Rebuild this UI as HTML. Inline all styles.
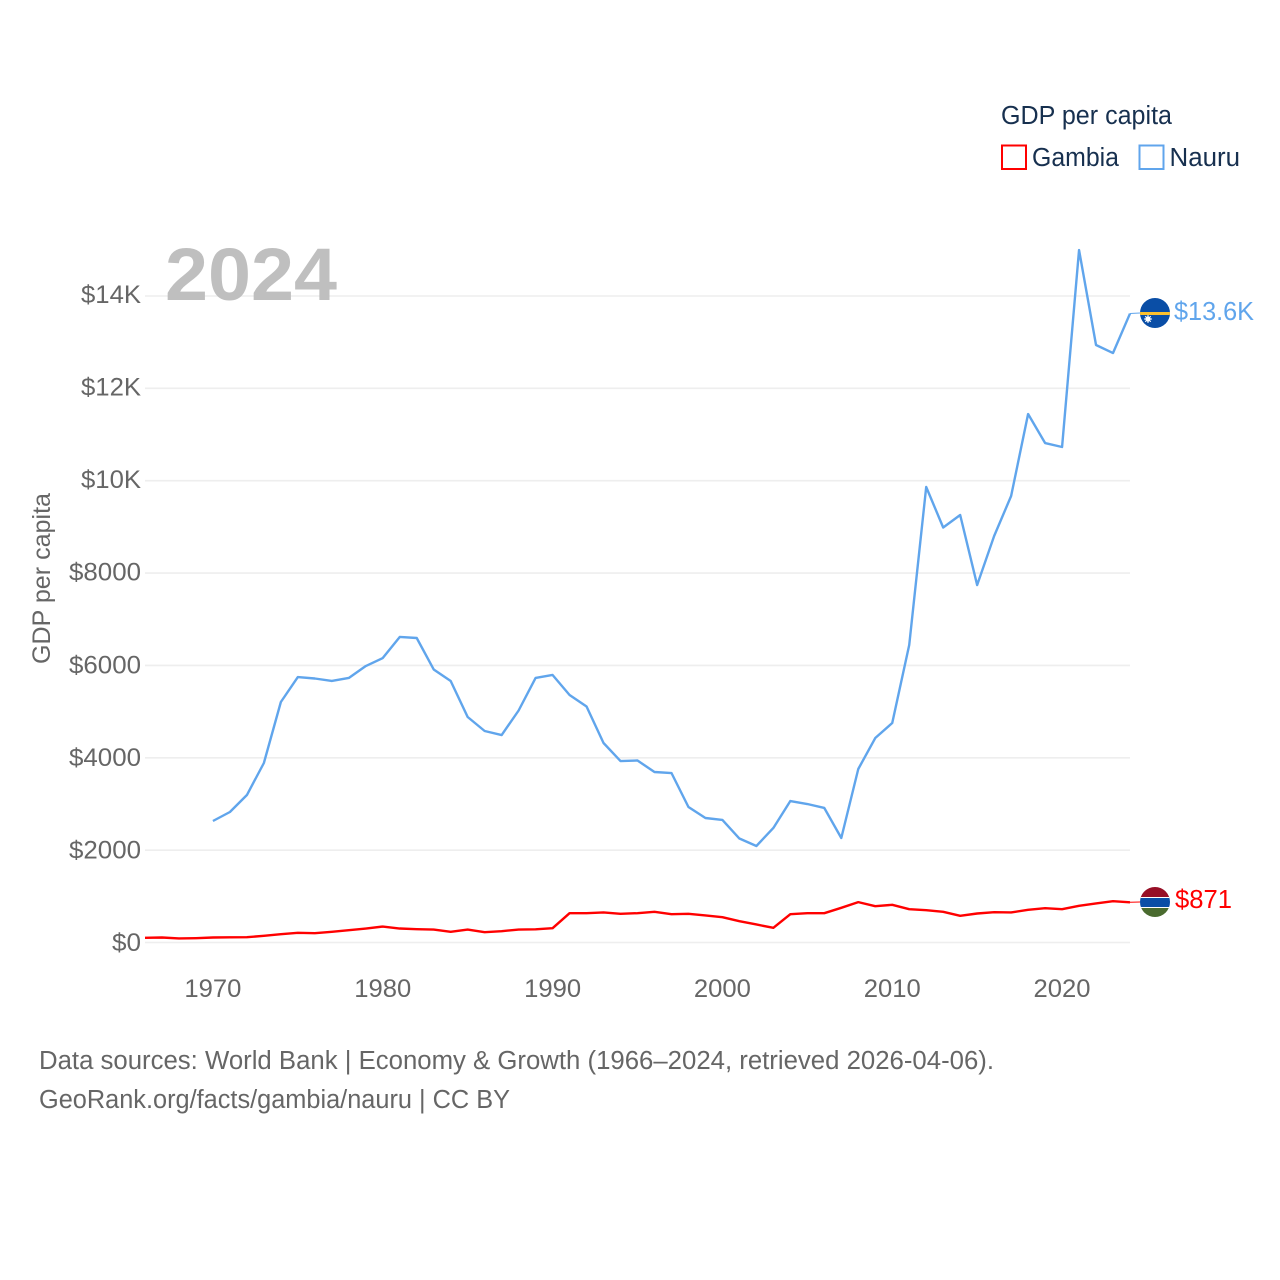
<!DOCTYPE html>
<html lang="en">
<head>
<meta charset="utf-8">
<title>GDP per capita: Gambia and Nauru</title>
<style>
html,body{margin:0;padding:0;background:#fff;width:1280px;height:1280px;overflow:hidden}
svg{display:block}
text{font-family:"Liberation Sans",sans-serif}
</style>
</head>
<body>
<svg id="chart" xmlns="http://www.w3.org/2000/svg" width="1280" height="1280" viewBox="0 0 1280 1280">
  <defs>
    <clipPath id="flag-clip-n"><circle cx="1155" cy="313" r="15"/></clipPath>
    <clipPath id="flag-clip-g"><circle cx="1155" cy="902" r="15"/></clipPath>
  </defs>
  <rect x="0" y="0" width="1280" height="1280" fill="#fff"/>
  <g id="grid"></g>
  <g id="yticks"></g>
  <g id="xticks"></g>
  <text x="165" y="300" font-size="74" font-weight="700" fill="#bfbfbf" textLength="172" lengthAdjust="spacingAndGlyphs">2024</text>
  <text transform="translate(50,664) rotate(-90)" font-size="24.6" fill="#666" textLength="171" lengthAdjust="spacingAndGlyphs">GDP per capita</text>
  <g id="series"></g>

  <g clip-path="url(#flag-clip-n)">
    <rect x="1140" y="298" width="30" height="30" fill="#0a4ea6"/>
    <rect x="1140" y="312" width="30" height="3" fill="#fcc12e"/>
    <circle cx="1148" cy="319" r="2.6" fill="#fff"/>
    <path d="M1148 315V323M1144 319H1152M1145.2 316.2L1150.8 321.8M1150.8 316.2L1145.2 321.8" stroke="#fff" stroke-width="1"/>
  </g>
  <g clip-path="url(#flag-clip-g)">
    <rect x="1140" y="887" width="30" height="11" fill="#970f26"/>
    <rect x="1140" y="897" width="30" height="11" fill="#fff"/>
    <rect x="1140" y="898" width="30" height="9" fill="#0a4ea6"/>
    <rect x="1140" y="908" width="30" height="10" fill="#4a6b2f"/>
  </g>
  <text x="1174" y="320" font-size="25.5" fill="#60a5ec" textLength="80" lengthAdjust="spacingAndGlyphs">$13.6K</text>
  <text x="1175" y="908" font-size="25.5" fill="#f00" textLength="57" lengthAdjust="spacingAndGlyphs">$871</text>

  <g>
    <text x="1001" y="124" font-size="25.5" fill="#17304f" textLength="171" lengthAdjust="spacingAndGlyphs">GDP per capita</text>
    <rect x="1002" y="145.500" width="24" height="23.500" fill="none" stroke="#f00" stroke-width="2"/>
    <text x="1032" y="166" font-size="25.5" fill="#17304f" textLength="87" lengthAdjust="spacingAndGlyphs">Gambia</text>
    <rect x="1139.500" y="145.500" width="24" height="23.500" fill="none" stroke="#60a5ec" stroke-width="2"/>
    <text x="1169.500" y="166" font-size="25.5" fill="#17304f" textLength="70.500" lengthAdjust="spacingAndGlyphs">Nauru</text>
  </g>

  <text x="39" y="1069" font-size="25.5" fill="#666" textLength="955" lengthAdjust="spacingAndGlyphs">Data sources: World Bank | Economy &amp; Growth (1966–2024, retrieved 2026-04-06).</text>
  <text x="39" y="1108" font-size="25.5" fill="#666" textLength="471" lengthAdjust="spacingAndGlyphs">GeoRank.org/facts/gambia/nauru | CC BY</text>
</svg>
<script>
const years = [1966,1967,1968,1969,1970,1971,1972,1973,1974,1975,1976,1977,1978,1979,1980,1981,1982,1983,1984,1985,1986,1987,1988,1989,1990,1991,1992,1993,1994,1995,1996,1997,1998,1999,2000,2001,2002,2003,2004,2005,2006,2007,2008,2009,2010,2011,2012,2013,2014,2015,2016,2017,2018,2019,2020,2021,2022,2023,2024];
const gambiaValues = [101,108,87,94,108,112,115,144,180,209,202,231,267,303,346,303,289,281,231,281,224,245,281,285,310,635,635,650,621,635,664,614,621,585,549,462,390,318,614,635,635,751,874,787,816,722,700,664,578,628,657,650,708,744,722,794,845,895,871];
const nauruValues = [null,null,null,null,2631,2826,3194,3887,5208,5749,5717,5663,5728,5987,6160,6616,6594,5912,5663,4883,4580,4493,5024,5728,5793,5360,5110,4320,3930,3941,3692,3670,2934,2696,2653,2252,2090,2480,3064,2999,2913,2263,3757,4428,4753,6442,9864,8987,9257,7741,8803,9669,11444,10816,10730,14995,12939,12765,13620];
const yTickValues = [0,2000,4000,6000,8000,10000,12000,14000];
const yTickLabels = ["$0","$2000","$4000","$6000","$8000","$10K","$12K","$14K"];
const xTickValues = [1970,1980,1990,2000,2010,2020];

const NS = "http://www.w3.org/2000/svg";
const x = year => 145 + (year - 1966) * (1130 - 145) / (2024 - 1966);
const y = value => 942.5 - value * (942.5 - 296) / 14000;

function make(tag, attrs, parent) {
  const el = document.createElementNS(NS, tag);
  for (const k in attrs) el.setAttribute(k, attrs[k]);
  parent.appendChild(el);
  return el;
}

const gridG = document.getElementById("grid");
const yG = document.getElementById("yticks");
const xG = document.getElementById("xticks");
const seriesG = document.getElementById("series");

yTickValues.forEach((v, i) => {
  const line = make("line", {x1: 145, x2: 1130, y1: y(v), y2: y(v), stroke: "#eeeeee", "stroke-width": 1.6}, gridG);
  
  
  const label = yTickLabels[i];
  const t = make("text", {
    x: 141, y: 951 - v * 648 / 14000, "text-anchor": "end", "font-size": 24.6, fill: "#666",
    textLength: label.length === 2 ? 29 : (label.length === 4 ? 60 : 72), lengthAdjust: "spacingAndGlyphs"
  }, yG);
  t.textContent = label;
  
  
});

xTickValues.forEach(v => {
  const t = make("text", {
    x: x(v), y: 997, "text-anchor": "middle", "font-size": 24.6, fill: "#666",
    textLength: 57, lengthAdjust: "spacingAndGlyphs"
  }, xG);
  t.textContent = String(v);
  
  
});

function linePath(values) {
  let d = "", pen = false;
  values.forEach((v, i) => {
    if (v === null) { pen = false; return; }
    d += (pen ? "L" : "M") + x(years[i]).toFixed(2) + " " + y(v).toFixed(2);
    pen = true;
  });
  return d;
}

function lastY(values) {
  return y(values[values.length - 1]);
}

const attrsBase = {fill: "none", "stroke-width": 2.4, "stroke-linejoin": "round", "stroke-linecap": "butt"};

const nauruLine = make("path", Object.assign({d: linePath(nauruValues), stroke: "#60a5ec"}, attrsBase), seriesG);



const gambiaLine = make("path", Object.assign({d: linePath(gambiaValues), stroke: "#ff0000"}, attrsBase), seriesG);



const nauruLeader = make("line", {x1: x(2024), y1: lastY(nauruValues), x2: 1140, y2: 313, stroke: "#60a5ec", "stroke-width": 1}, seriesG);



const gambiaLeader = make("line", {x1: x(2024), y1: lastY(gambiaValues), x2: 1140, y2: 902, stroke: "#ff0000", "stroke-width": 1}, seriesG);


</script>
</body>
</html>
